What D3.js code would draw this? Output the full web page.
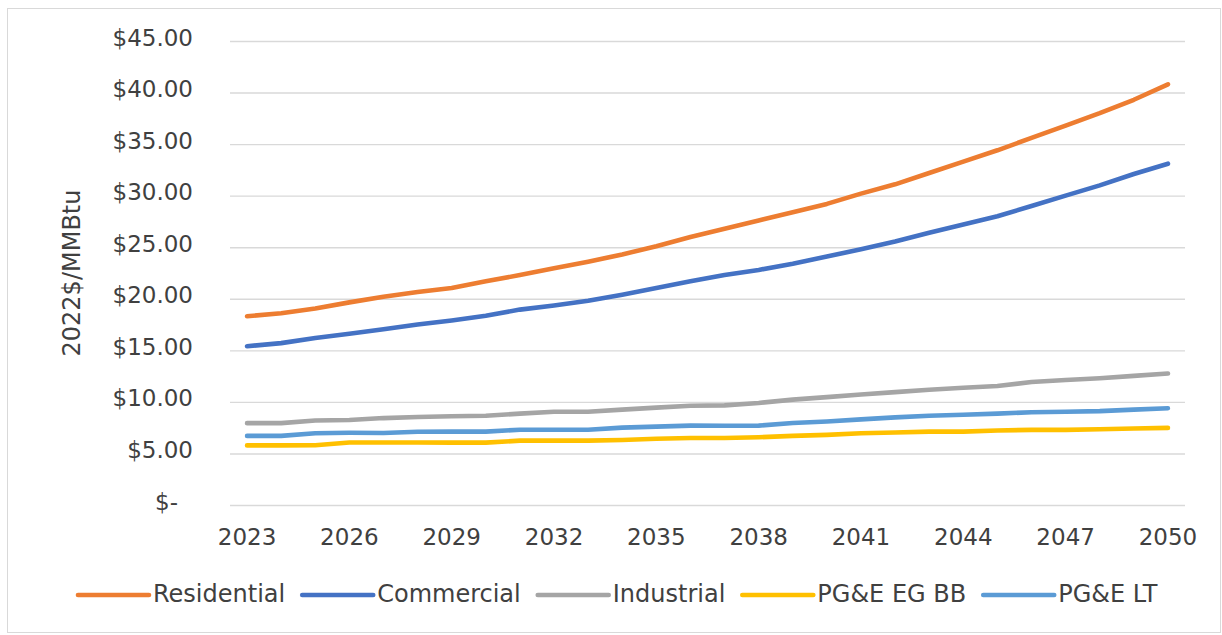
<!DOCTYPE html>
<html>
<head>
<meta charset="utf-8">
<script src="https://cdn.jsdelivr.net/npm/d3@7"></script>
<style>
  html, body { margin: 0; padding: 0; background: #fff; }
  svg { display: block; }
  text { font-family: "DejaVu Sans", Verdana, sans-serif; fill: #404040; }
</style>
</head>
<body>
<svg id="chart" width="1222" height="635"></svg>
<script>
const years = d3.range(2023, 2051);
const tickYears = [2023, 2026, 2029, 2032, 2035, 2038, 2041, 2044, 2047, 2050];
const yTicks = [0, 5, 10, 15, 20, 25, 30, 35, 40, 45];

const residential = [18.3, 18.6, 19.05, 19.65, 20.2, 20.65, 21.05, 21.7, 22.3, 22.95, 23.6, 24.3, 25.1, 26.0, 26.8, 27.6, 28.4, 29.2, 30.2, 31.1, 32.2, 33.3, 34.4, 35.6, 36.8, 38.0, 39.3, 40.8];
const commercial  = [15.4, 15.7, 16.2, 16.6, 17.05, 17.5, 17.9, 18.35, 18.95, 19.35, 19.8, 20.4, 21.05, 21.7, 22.3, 22.8, 23.4, 24.1, 24.8, 25.55, 26.4, 27.2, 28.0, 29.0, 30.0, 31.0, 32.1, 33.1];
const industrial  = [7.94, 7.94, 8.2, 8.25, 8.43, 8.53, 8.6, 8.66, 8.86, 9.05, 9.05, 9.25, 9.44, 9.62, 9.66, 9.9, 10.22, 10.46, 10.72, 10.95, 11.18, 11.37, 11.54, 11.93, 12.12, 12.29, 12.52, 12.75];
const egbb        = [5.78, 5.78, 5.8, 6.06, 6.06, 6.06, 6.05, 6.05, 6.24, 6.24, 6.24, 6.3, 6.42, 6.5, 6.5, 6.57, 6.7, 6.8, 6.96, 7.03, 7.12, 7.12, 7.22, 7.29, 7.29, 7.35, 7.42, 7.48];
const lt          = [6.7, 6.7, 6.96, 7.0, 6.98, 7.1, 7.12, 7.12, 7.3, 7.3, 7.3, 7.5, 7.6, 7.7, 7.68, 7.7, 7.95, 8.1, 8.3, 8.5, 8.65, 8.76, 8.86, 9.0, 9.05, 9.1, 9.25, 9.38];

const seriesNames = ["Residential", "Commercial", "Industrial", "PG&E EG BB", "PG&E LT"];
const seriesColors = ["#ED7D31", "#4472C4", "#A5A5A5", "#FFC000", "#5B9BD5"];
const seriesValues = [residential, commercial, industrial, egbb, lt];
const yTitle = "2022$/MMBtu";

const svg = d3.select("#chart");

// outer border
svg.append("rect")
  .attr("x", 7.5).attr("y", 8.5).attr("width", 1213).attr("height", 624)
  .attr("fill", "#fff").attr("stroke", "#d9d9d9").attr("stroke-width", 1);

const x = d3.scaleBand().domain(years).range([230, 1185]).padding(0);
const y = d3.scaleLinear().domain([0, 45]).range([505, 41]);
const cx = d => x(d) + x.bandwidth() / 2;

// gridlines + y labels
const yAxis = d3.axisLeft(y).tickValues(yTicks).tickSize(-(1185 - 230)).tickPadding(37)
  .tickFormat(v => v === 0 ? "$-" : "$" + d3.format(".2f")(v));
const gy = svg.append("g").attr("transform", "translate(230,0)").call(yAxis);
gy.select(".domain").remove();
gy.selectAll(".tick line").attr("stroke", "#d9d9d9").attr("stroke-width", 1.4);
gy.selectAll(".tick text")
  .style("font-size", "23px")
  .attr("dy", "4px")
  .attr("dominant-baseline", "auto")
  .attr("fill", "#404040")
  .attr("dx", d => d === 0 ? "-15px" : "0px");

// x axis labels
const xAxis = d3.axisBottom(x).tickValues(tickYears).tickSize(0).tickPadding(0);
const gx = svg.append("g").attr("transform", "translate(0,505)").call(xAxis);
gx.select(".domain").remove();
gx.selectAll(".tick text")
  .style("font-size", "23px")
  .attr("y", 40).attr("dy", "0").attr("dominant-baseline", "auto")
  .attr("fill", "#404040");

// y title
svg.append("text")
  .attr("transform", `translate(80,${(y(0) + y(45)) / 2}) rotate(-90)`)
  .attr("text-anchor", "middle")
  .style("font-size", "24px")
  .text(yTitle);

// lines
const line = d3.line().x((d, i) => cx(years[i])).y(d => y(d));
seriesValues.forEach((vals, k) => {
  svg.append("path")
    .datum(vals)
    .attr("d", line)
    .attr("fill", "none")
    .attr("stroke", seriesColors[k])
    .attr("stroke-width", 4.6)
    .attr("stroke-linecap", "round")
    .attr("stroke-linejoin", "round");
});

// legend
const lg = svg.append("g");
let lx = 78;
const ly = 595;
seriesNames.forEach((name, k) => {
  lg.append("line")
    .attr("x1", lx).attr("x2", lx + 71).attr("y1", ly).attr("y2", ly)
    .attr("stroke", seriesColors[k]).attr("stroke-width", 4.6)
    .attr("stroke-linecap", "round");
  const t = lg.append("text")
    .attr("x", lx + 75).attr("y", ly + 7)
    .style("font-size", "24px")
    .text(name);
  const w = t.node().getComputedTextLength();
  lx = lx + 75 + w + 17;
});
</script>
</body>
</html>
